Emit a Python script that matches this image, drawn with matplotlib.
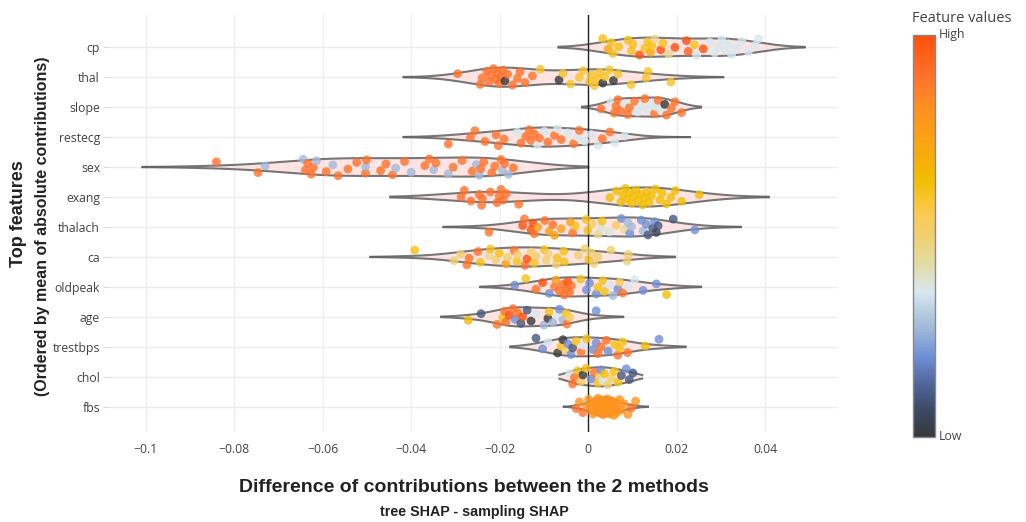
import numpy as np
import matplotlib
matplotlib.use("Agg")
import matplotlib.pyplot as plt
from matplotlib.colors import LinearSegmentedColormap, Normalize
from matplotlib.cm import ScalarMappable

# feature order (top to bottom)
features = ["cp", "thal", "slope", "restecg", "sex", "exang", "thalach",
            "ca", "oldpeak", "age", "trestbps", "chol", "fbs"]

# difference of contributions (tree SHAP - sampling SHAP)
# colour value: 0 = low feature value, 1 = high feature value
cp_shap = [0.0033, 0.0045, 0.0052, 0.0056, 0.0069, 0.009, 0.0098, 0.0101, 0.0116, 0.0128,
           0.0135, 0.0141, 0.0144, 0.015, 0.0164, 0.0169, 0.0182, 0.0196, 0.0222, 0.0226,
           0.024, 0.0245, 0.026, 0.0275, 0.0286, 0.0294, 0.0302, 0.031, 0.0317, 0.0324,
           0.0336, 0.0347, 0.0362, 0.0377, 0.0385]
cp_col = [0.62, 0.72, 0.62, 0.62, 0.62, 0.62, 0.62, 0.62, 1.0, 0.62,
          0.62, 0.72, 0.62, 0.45, 1.0, 0.62, 0.45, 1.0, 1.0, 0.95,
          0.62, 0.36, 1.0, 0.36, 0.36, 0.36, 0.36, 0.36, 0.36, 0.36,
          0.36, 0.36, 0.36, 0.36, 0.36]

thal_shap = [-0.0295, -0.0244, -0.0239, -0.0229, -0.0224, -0.022, -0.0214, -0.0208, -0.0205, -0.0201,
             -0.0197, -0.0193, -0.0188, -0.0182, -0.0171, -0.016, -0.0154, -0.0143, -0.0126, -0.0108,
             -0.0066, -0.0057, -0.004, -0.002, -0.0012, 0.0003, 0.0008, 0.0014, 0.002, 0.0026,
             0.0033, 0.0038, 0.0048, 0.0057, 0.0067, 0.0097, 0.0131, 0.0135, 0.0187]
thal_col = [0.9, 0.9, 0.9, 0.9, 0.9, 0.9, 0.9, 0.9, 0.9, 0.9,
            0.9, 0.9, 0.0, 0.9, 0.9, 0.9, 0.9, 0.9, 0.9, 0.6,
            0.0, 0.6, 0.6, 0.6, 0.6, 0.6, 0.6, 0.6, 0.6, 0.6,
            0.0, 0.6, 0.6, 0.0, 0.6, 0.6, 0.6, 0.6, 0.6]

slope_shap = [0.0029, 0.0052, 0.0059, 0.0063, 0.0067, 0.0074, 0.0082, 0.0089, 0.0093, 0.0105,
              0.0112, 0.012, 0.0128, 0.0135, 0.0146, 0.015, 0.0154, 0.0158, 0.0165, 0.0173,
              0.0177, 0.0188, 0.0196, 0.0211]
slope_col = [0.9, 0.36, 0.9, 0.9, 0.9, 0.9, 0.36, 0.9, 0.9, 0.9,
             0.36, 0.36, 0.9, 0.36, 0.36, 0.9, 0.36, 0.9, 0.36, 0.0,
             0.9, 0.9, 0.9, 0.9]

restecg_shap = [-0.0316, -0.0266, -0.0256, -0.0233, -0.0208, -0.0203, -0.019, -0.016, -0.0152, -0.0141,
                -0.0133, -0.0129, -0.0122, -0.0114, -0.011, -0.0099, -0.0091, -0.0076, -0.0069, -0.0061,
                -0.0046, -0.0033, -0.0024, -0.002, -0.0008, 0.0007, 0.0022, 0.0032, 0.0049, 0.006,
                0.0082]
restecg_col = [0.9, 0.9, 0.9, 0.9, 0.9, 0.9, 0.9, 0.36, 0.9, 0.9,
               0.9, 0.9, 0.9, 0.36, 0.9, 0.36, 0.9, 0.9, 0.36, 0.9,
               0.36, 0.9, 0.36, 0.9, 0.36, 0.36, 0.36, 0.9, 0.9, 0.36,
               0.36]

sex_shap = [-0.084, -0.0746, -0.073, -0.0644, -0.0639, -0.0634, -0.0626, -0.0621, -0.0614, -0.0592,
            -0.0577, -0.0565, -0.0543, -0.0523, -0.0503, -0.0503, -0.0501, -0.0469, -0.0457, -0.0442,
            -0.0435, -0.0415, -0.04, -0.0369, -0.0359, -0.0349, -0.0344, -0.0316, -0.0305, -0.0285,
            -0.0262, -0.0253, -0.0246, -0.0243, -0.0236, -0.0218, -0.0211, -0.0197, -0.0194, -0.0189,
            -0.018, -0.0169]
sex_col = [0.9, 0.9, 0.27, 0.27, 0.9, 0.9, 0.9, 0.9, 0.27, 0.9,
           0.27, 0.9, 0.9, 0.9, 0.9, 0.27, 0.9, 0.9, 0.9, 0.9,
           0.27, 0.9, 0.27, 0.9, 0.9, 0.27, 0.9, 0.27, 0.9, 0.9,
           0.9, 0.27, 0.27, 0.9, 0.9, 0.9, 0.9, 0.9, 0.27, 0.9,
           0.27, 0.9]

exang_shap = [-0.0287, -0.028, -0.0265, -0.0246, -0.0241, -0.0239, -0.0221, -0.0206, -0.0201, -0.0197,
              -0.0192, -0.0185, -0.0157, 0.0049, 0.0064, 0.0074, 0.0079, 0.0084, 0.0088, 0.0093,
              0.0098, 0.0103, 0.0108, 0.0113, 0.0118, 0.0123, 0.0128, 0.0133, 0.0138, 0.0143,
              0.0152, 0.0162, 0.0167, 0.0177, 0.0187, 0.0197, 0.0211, 0.0251]
exang_col = [0.9] * 13 + [0.64] * 25

thalach_shap = [-0.0224, -0.0148, -0.0144, -0.0129, -0.0125, -0.0122, -0.0114, -0.0098, -0.0088, -0.008,
                -0.0076, -0.0061, -0.004, -0.0035, -0.0029, -0.0005, -0.0001, 0.0009, 0.0022, 0.0029,
                0.0031, 0.0048, 0.0063, 0.0075, 0.0082, 0.009, 0.0094, 0.0098, 0.012, 0.0124,
                0.0131, 0.0135, 0.0146, 0.015, 0.0154, 0.0158, 0.0192, 0.0241]
thalach_col = [0.9, 1.0, 0.9, 1.0, 1.0, 0.9, 0.75, 0.9, 0.75, 0.9,
               0.75, 0.75, 0.75, 0.9, 0.62, 0.62, 0.62, 0.54, 0.45, 0.38,
               0.62, 0.38, 0.54, 0.2, 0.45, 0.27, 0.2, 0.27, 0.2, 0.27,
               0.2, 0.1, 0.1, 0.2, 0.05, 0.1, 0.1, 0.2]

ca_shap = [-0.0392, -0.0303, -0.0288, -0.0274, -0.0269, -0.0249, -0.0244, -0.0224, -0.0221, -0.0209,
           -0.0201, -0.0186, -0.0182, -0.0167, -0.0161, -0.016, -0.0143, -0.0138, -0.0129, -0.0122,
           -0.0118, -0.0099, -0.0095, -0.0091, -0.0072, -0.007, -0.0055, -0.0054, -0.0022, -0.0008,
           0.0001, 0.0007, 0.0013, 0.0022, 0.0051, 0.0088, 0.0091]
ca_col = [0.62, 0.5, 0.5, 0.9, 0.9, 0.9, 0.62, 0.45, 0.62, 0.5,
          0.62, 0.75, 0.5, 0.9, 0.62, 0.5, 0.9, 1.0, 0.5, 0.62,
          0.5, 0.62, 0.5, 0.5, 0.5, 0.62, 0.62, 0.62, 0.5, 0.5,
          0.62, 0.5, 0.5, 0.5, 0.5, 0.5, 0.5]

oldpeak_shap = [-0.0166, -0.0141, -0.0118, -0.0103, -0.0088, -0.0076, -0.0073, -0.0065, -0.0057, -0.0054,
                -0.005, -0.0046, -0.0042, -0.0038, -0.0017, -0.0004, 0.0003, 0.0018, 0.0022, 0.0033,
                0.0037, 0.0048, 0.0056, 0.0067, 0.0071, 0.0078, 0.009, 0.0105, 0.0124, 0.0154,
                0.0177]
oldpeak_col = [0.2, 0.62, 0.9, 1.0, 0.2, 0.9, 0.75, 0.9, 0.9, 0.9,
               0.9, 1.0, 0.9, 0.9, 0.62, 0.2, 0.2, 0.2, 0.62, 0.62,
               0.62, 0.36, 0.27, 0.2, 0.54, 0.9, 0.36, 0.36, 0.2, 0.2,
               0.64]

age_shap = [-0.0271, -0.0242, -0.0206, -0.0193, -0.0189, -0.0186, -0.0178, -0.017, -0.0165, -0.0159,
            -0.0152, -0.0148, -0.0138, -0.0129, -0.0118, -0.01, -0.0091, -0.0088, -0.008, -0.0069,
            -0.0065, -0.0057, -0.005, -0.0048, -0.0042, 0.0018]
age_col = [0.64, 0.1, 0.9, 0.62, 0.9, 0.9, 1.0, 0.9, 0.2, 0.9,
           0.1, 1.0, 0.1, 0.0, 0.36, 0.27, 0.0, 0.62, 0.27, 0.36,
           0.2, 0.27, 0.62, 0.9, 0.54, 0.2]

trestbps_shap = [-0.0118, -0.0103, -0.0091, -0.0069, -0.0061, -0.0057, -0.005, -0.0046, -0.0039, -0.0035,
                 -0.0027, -0.0016, -0.0012, -0.0004, 0.0011, 0.0018, 0.0022, 0.0029, 0.0041, 0.0045,
                 0.006, 0.0067, 0.0071, 0.0078, 0.0089, 0.0129, 0.016]
trestbps_col = [0.1, 0.2, 0.36, 0.0, 0.62, 0.0, 0.5, 0.2, 0.2, 0.1,
                0.62, 0.9, 0.36, 0.62, 0.2, 0.2, 0.9, 0.9, 0.9, 0.2,
                0.62, 0.9, 0.62, 0.62, 0.9, 0.64, 0.2]

chol_shap = [-0.0042, -0.0035, -0.0031, -0.0024, -0.0016, -0.0012, -0.0005, 0.0007, 0.0014, 0.0022,
             0.0025, 0.0029, 0.0033, 0.0037, 0.0044, 0.0052, 0.0059, 0.0067, 0.0075, 0.0086,
             0.0093, 0.0101]
chol_col = [0.36, 0.9, 0.9, 0.62, 0.54, 0.0, 0.62, 0.2, 0.9, 0.62,
            0.54, 0.2, 0.36, 0.62, 0.5, 0.5, 0.62, 0.62, 0.1, 0.2,
            0.1, 0.1]

fbs_shap = [-0.0027, -0.002, -0.0012, -0.0004, 0.0001, 0.0006, 0.0009, 0.0011, 0.0013, 0.0016,
            0.0018, 0.0019, 0.0022, 0.0024, 0.0025, 0.0027, 0.0028, 0.003, 0.0031, 0.0033,
            0.0034, 0.0035, 0.0037, 0.0039, 0.0041, 0.0043, 0.0045, 0.0047, 0.0049, 0.005,
            0.0052, 0.0054, 0.0056, 0.0058, 0.006, 0.0062, 0.0064, 0.0067, 0.0071, 0.0075,
            0.0081, 0.009, 0.0098, 0.0107]
fbs_col = [0.9, 0.8, 0.9] + [0.8] * 39 + [0.9, 0.8]

shap_values = [cp_shap, thal_shap, slope_shap, restecg_shap, sex_shap, exang_shap, thalach_shap,
               ca_shap, oldpeak_shap, age_shap, trestbps_shap, chol_shap, fbs_shap]
color_values = [cp_col, thal_col, slope_col, restecg_col, sex_col, exang_col, thalach_col,
                ca_col, oldpeak_col, age_col, trestbps_col, chol_col, fbs_col]

# violin extent (left, right) as drawn
violin_lo = [-0.0067, -0.0417, -0.0014, -0.0417, -0.1007, -0.0447, -0.0327,
             -0.0492, -0.0244, -0.0332, -0.0176, -0.0065, -0.0055]
violin_hi = [0.0489, 0.0305, 0.0255, 0.023, 0.0, 0.0408, 0.0345,
             0.0196, 0.0255, 0.0079, 0.022, 0.0122, 0.0135]

xticks = [-0.1, -0.08, -0.06, -0.04, -0.02, 0, 0.02, 0.04]
xtick_labels = ["\u22120.1", "\u22120.08", "\u22120.06", "\u22120.04", "\u22120.02", "0", "0.02", "0.04"]

cmap = LinearSegmentedColormap.from_list("feat", [
    (0.00, "#35383c"), (0.07, "#3d4b66"), (0.13, "#4f6699"), (0.20, "#6f8fd6"),
    (0.26, "#9ab4d8"), (0.31, "#b9cde0"), (0.36, "#d6e8f0"), (0.43, "#e2dca4"),
    (0.50, "#f0d070"), (0.56, "#fcc94f"), (0.64, "#f2be00"), (0.72, "#f9a70f"),
    (0.82, "#ff8f22"), (0.90, "#ff722a"), (1.00, "#ff4f0a")])

TICK_FONT = ["Open Sans", "DejaVu Sans"]
TITLE_FONT = ["Liberation Sans Narrow", "Liberation Sans", "DejaVu Sans"]


def kde(vals, grid):
    vals = np.asarray(vals)
    n = len(vals)
    sd = vals.std(ddof=1)
    iqr = np.subtract(*np.percentile(vals, [75, 25]))
    spread = min(sd, iqr / 1.349) if iqr > 0 else sd
    bw = 1.059 * spread * n ** -0.2
    d = np.exp(-0.5 * ((grid[:, None] - vals[None, :]) / bw) ** 2).sum(axis=1)
    return d / d.max()


fig = plt.figure(figsize=(10.26, 5.22), dpi=100)
ax = fig.add_axes([0.107, 0.172, 0.71, 0.799])

half_width = 0.32
for i, name in enumerate(features):
    grid = np.linspace(violin_lo[i], violin_hi[i], 300)
    dens = kde(shap_values[i], grid) * half_width
    ax.fill_between(grid, i - dens, i + dens, color="#ffdede", alpha=0.8, lw=0, zorder=2)
    ax.plot(grid, i - dens, color="#606060", lw=1.5, alpha=0.85, zorder=2.2)
    ax.plot(grid, i + dens, color="#606060", lw=1.5, alpha=0.85, zorder=2.2)

    vals = np.asarray(shap_values[i])
    k = np.arange(len(vals))
    jitter = ((k * 0.618034 + 0.3 * i) % 1.0 - 0.5) * 0.58
    ax.scatter(vals, i + jitter, c=color_values[i], cmap=cmap, vmin=0, vmax=1,
               s=40, alpha=0.8, linewidths=0, zorder=4)

ax.axvline(0, color="#222222", lw=1.0, zorder=3)

ax.set_xlim(-0.1081, 0.0565)
ax.set_ylim(12.85, -1.07)
ax.set_yticks(range(len(features)))
ax.set_yticklabels(features, family=TICK_FONT, fontsize=8.8, color="#444444")
ax.set_xticks(xticks)
ax.set_xticklabels(xtick_labels, family=TICK_FONT, fontsize=8.8, color="#444444")
ax.tick_params(axis="y", length=5, color="#dddddd", pad=2)
ax.tick_params(axis="x", length=0, pad=8)
ax.grid(True, color="#eeeeee", lw=1.0, zorder=0)
ax.set_axisbelow(True)
for sp in ax.spines.values():
    sp.set_visible(False)

fig.text(0.462, 0.066, "Difference of contributions between the 2 methods", ha="center", va="center",
         family=TITLE_FONT, fontsize=14, fontweight="bold", color="#222222")
fig.text(0.462, 0.019, "tree SHAP - sampling SHAP", ha="center", va="center",
         family=TITLE_FONT, fontsize=10.3, fontweight="bold", color="#222222")
fig.text(0.018, 0.59, "Top features", ha="center", va="center", rotation=90,
         family=TITLE_FONT, fontsize=13, fontweight="bold", color="#222222")
fig.text(0.041, 0.567, "(Ordered by mean of absolute contributions)", ha="center", va="center",
         rotation=90, family=TITLE_FONT, fontsize=11.5, fontweight="bold", color="#222222")

# colour bar
cax = fig.add_axes([0.890, 0.163, 0.0214, 0.770])
cb = fig.colorbar(ScalarMappable(norm=Normalize(0, 1), cmap=cmap), cax=cax)
cb.set_ticks([])
cb.outline.set_edgecolor("#888888")
cb.outline.set_linewidth(1.0)
cax.text(1.15, 1.0, "High", transform=cax.transAxes, ha="left", va="center",
         family=TICK_FONT, fontsize=8.8, color="#444444")
cax.text(1.15, 0.0, "Low", transform=cax.transAxes, ha="left", va="center",
         family=TICK_FONT, fontsize=8.8, color="#444444")
fig.text(0.889, 0.965, "Feature values", ha="left", va="center",
         family=TICK_FONT, fontsize=10.5, color="#444444")

fig.savefig("out.png", dpi=100)
